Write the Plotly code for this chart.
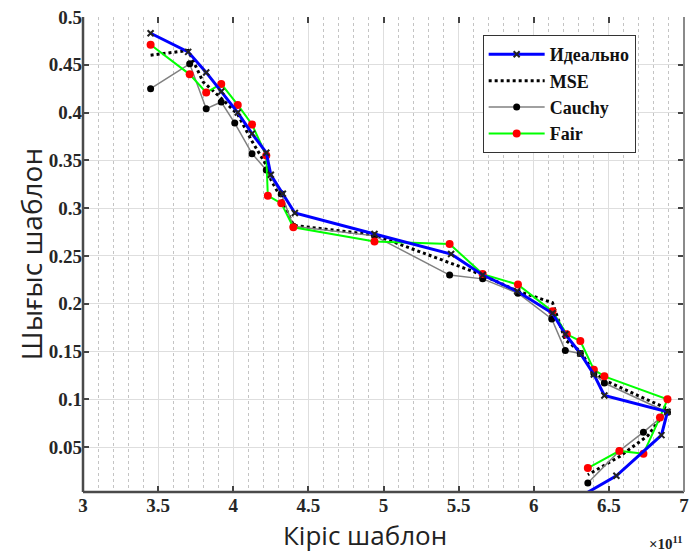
import plotly.graph_objects as go

# ---- data (x in units of 1e11) ----
ideal_x = [3.45, 3.70, 3.82, 3.92, 4.03, 4.125, 4.22, 4.25, 4.33, 4.41, 4.94, 5.45, 5.66, 5.89, 6.125, 6.21, 6.31, 6.40, 6.47, 6.89, 6.85, 6.55, 6.33]
ideal_y = [0.483, 0.4635, 0.442, 0.422, 0.400, 0.378, 0.358, 0.335, 0.315, 0.295, 0.273, 0.252, 0.230, 0.213, 0.190, 0.168, 0.148, 0.126, 0.104, 0.087, 0.0625, 0.020, 0.0]

mse_x = [3.45, 3.70, 3.80, 3.92, 4.03, 4.125, 4.22, 4.25, 4.32, 4.40, 4.94, 5.44, 5.66, 5.895, 6.125, 6.21, 6.31, 6.40, 6.47, 6.89, 6.76, 6.57, 6.36]
mse_y = [0.460, 0.465, 0.432, 0.415, 0.398, 0.370, 0.345, 0.330, 0.310, 0.282, 0.272, 0.243, 0.230, 0.213, 0.201, 0.162, 0.150, 0.128, 0.120, 0.090, 0.062, 0.040, 0.021]

cauchy_x = [3.45, 3.71, 3.82, 3.92, 4.01, 4.125, 4.22, 4.32, 4.40, 4.94, 5.44, 5.66, 5.895, 6.12, 6.21, 6.31, 6.40, 6.47, 6.89, 6.73, 6.57, 6.36]
cauchy_y = [0.425, 0.451, 0.404, 0.411, 0.389, 0.357, 0.340, 0.315, 0.281, 0.271, 0.230, 0.226, 0.211, 0.184, 0.151, 0.148, 0.127, 0.117, 0.0865, 0.0656, 0.046, 0.0125]

fair_x = [3.45, 3.71, 3.82, 3.92, 4.03, 4.125, 4.22, 4.23, 4.32, 4.40, 4.94, 5.44, 5.66, 5.895, 6.125, 6.22, 6.31, 6.40, 6.47, 6.89, 6.84, 6.73, 6.57, 6.36]
fair_y = [0.471, 0.440, 0.421, 0.430, 0.408, 0.3875, 0.355, 0.313, 0.305, 0.280, 0.265, 0.2625, 0.231, 0.220, 0.192, 0.168, 0.161, 0.131, 0.124, 0.100, 0.081, 0.043, 0.046, 0.028]

x_ticks = [3, 3.5, 4, 4.5, 5, 5.5, 6, 6.5, 7]
x_ticklabels = ["3", "3.5", "4", "4.5", "5", "5.5", "6", "6.5", "7"]
y_ticks = [0.05, 0.1, 0.15, 0.2, 0.25, 0.3, 0.35, 0.4, 0.45, 0.5]
y_ticklabels = ["0.05", "0.1", "0.15", "0.2", "0.25", "0.3", "0.35", "0.4", "0.45", "0.5"]

names = ["Идеально", "MSE", "Cauchy", "Fair"]
x_title = "Кіріс шаблон"
y_title = "Шығыс шаблон"

fig = go.Figure()
fig.add_trace(go.Scatter(x=mse_x, y=mse_y, mode="lines", name=names[1],
                         line=dict(color="black", width=3, dash="dot"), legendrank=2))
fig.add_trace(go.Scatter(x=cauchy_x, y=cauchy_y, mode="lines+markers", name=names[2],
                         line=dict(color="#808080", width=1.5),
                         marker=dict(symbol="circle", color="black", size=7), legendrank=3))
fig.add_trace(go.Scatter(x=fair_x, y=fair_y, mode="lines+markers", name=names[3],
                         line=dict(color="#00ff00", width=2),
                         marker=dict(symbol="circle", color="red", size=8), legendrank=4))
fig.add_trace(go.Scatter(x=ideal_x, y=ideal_y, mode="lines+markers", name=names[0],
                         line=dict(color="#0000ff", width=3),
                         marker=dict(symbol="x-thin", size=6, color="#222222",
                                     line=dict(color="#222222", width=2)), legendrank=1))

tickfont = dict(family="Liberation Serif", size=19, color="#262626", weight="bold")
fig.update_layout(
    width=696, height=555,
    margin=dict(l=83, r=7, t=15, b=63),
    paper_bgcolor="white", plot_bgcolor="white",
    showlegend=True,
    legend=dict(x=0.665, y=0.962, xanchor="left", yanchor="top",
                bgcolor="white", bordercolor="#333333", borderwidth=1,
                font=dict(family="Liberation Serif", size=18, color="#111111", weight="bold"),
                tracegroupgap=0, itemwidth=56),
    xaxis=dict(range=[3, 7], tickvals=x_ticks, ticktext=x_ticklabels,
               showgrid=True, gridcolor="#dedede", gridwidth=1,
               minor=dict(dtick=0.1, showgrid=True, gridcolor="#c4c4c4", griddash="dot", gridwidth=1),
               showline=False, mirror="ticks",
               ticks="inside", ticklen=6, tickcolor="#444444", tickwidth=1.5,
               tickfont=tickfont, zeroline=False),
    yaxis=dict(range=[0.003, 0.5], tickvals=y_ticks, ticktext=y_ticklabels,
               showgrid=True, gridcolor="#dedede", gridwidth=1,
               showline=False, mirror="ticks",
               ticks="inside", ticklen=6, tickcolor="#444444", tickwidth=1.5,
               tickfont=tickfont, zeroline=False),
)
# axis box lines: dark left/bottom, lighter right
fig.add_shape(type="line", xref="paper", yref="paper", x0=0, x1=1, y0=0, y1=0,
              line=dict(color="#4a4a4a", width=2.5), layer="above")
fig.add_shape(type="line", xref="paper", yref="paper", x0=0, x1=0, y0=0, y1=1,
              line=dict(color="#4a4a4a", width=2.5), layer="above")
fig.add_shape(type="line", xref="paper", yref="paper", x0=1, x1=1, y0=0, y1=1,
              line=dict(color="#8a8a8a", width=2), layer="above")

fig.add_annotation(text=x_title, xref="paper", yref="paper", x=0.47, y=-0.130,
                   xanchor="center", yanchor="bottom", showarrow=False, borderpad=0,
                   font=dict(family="Open Sans", size=26, color="#222222"))
fig.add_annotation(text=y_title, xref="paper", yref="paper", x=-0.087, y=0.50,
                   xanchor="center", yanchor="middle", textangle=-90, showarrow=False,
                   font=dict(family="Open Sans", size=28, color="#222222"))
fig.add_annotation(text="×10<sup>11</sup>", xref="paper", yref="paper", x=1.0, y=-0.085,
                   xanchor="right", yanchor="top", showarrow=False,
                   font=dict(family="Liberation Serif", size=15, color="#222222", weight="bold"))

fig.write_html("out.html")
